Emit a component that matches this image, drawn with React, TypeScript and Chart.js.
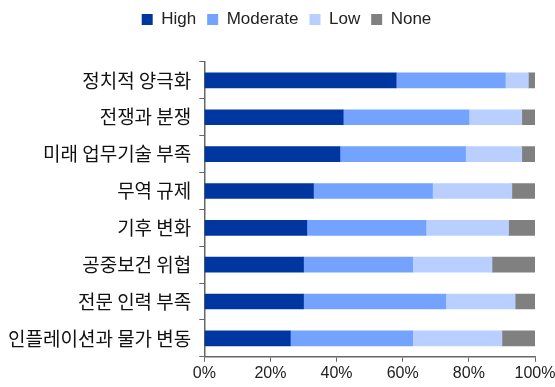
import React, { useEffect, useRef } from "react";
import { Chart, registerables } from "chart.js";

Chart.register(...registerables);

const categories = [
  "정치적 양극화",
  "전쟁과 분쟁",
  "미래 업무기술 부족",
  "무역 규제",
  "기후 변화",
  "공중보건 위협",
  "전문 인력 부족",
  "인플레이션과 물가 변동",
];
const high = [58, 42, 41, 33, 31, 30, 30, 26];
const moderate = [33, 38, 38, 36, 36, 33, 43, 37];
const low = [7, 16, 17, 24, 25, 24, 21, 27];
const none = [2, 4, 5, 7, 8, 13, 6, 10];
const seriesNames = ["High", "Moderate", "Low", "None"];
const colors = ["#0036a0", "#73a3ff", "#b8cfff", "#808080"];

const FONT = "'Liberation Sans', Arial, 'Noto Sans CJK KR', sans-serif";
const KFONT = "'Noto Sans CJK KR', 'Liberation Sans', sans-serif";

const legendMargin = {
  id: "legendMargin",
  beforeInit(chart: any) {
    const legend = chart.legend;
    if (!legend) return;
    const orig = legend.fit;
    legend.fit = function () {
      orig.bind(legend)();
      this.height += 24;
    };
  },
  afterLayout(chart: any) {
    const legend = chart.legend;
    if (!legend) return;
    legend.left += 9;
    legend.right += 9;
  },
};

export default function App() {
  const ref = useRef<HTMLCanvasElement>(null);
  useEffect(() => {
    document.body.style.margin = "0";
    const ctx = ref.current!;
    const data = [high, moderate, low, none];
    const chart = new Chart(ctx, {
      type: "bar",
      data: {
        labels: categories,
        datasets: data.map((d, i) => ({
          label: seriesNames[i],
          data: d,
          backgroundColor: colors[i],
          borderWidth: 0,
          barThickness: 15,
        })),
      },
      plugins: [legendMargin],
      options: {
        indexAxis: "y",
        animation: false,
        responsive: false,
        maintainAspectRatio: false,
        layout: { padding: { left: 0, right: 0, top: 0, bottom: 2 } },
        plugins: {
          tooltip: { enabled: false },
          legend: {
            position: "top",
            labels: {
              boxWidth: 11,
              boxHeight: 11,
              padding: 11,
              color: "#222",
              font: { family: FONT, size: 17 },
            },
          },
        },
        scales: {
          x: {
            stacked: true,
            min: 0,
            max: 100,
            afterFit: (scale: any) => {
              scale.paddingRight = 20;
            },
            ticks: {
              stepSize: 20,
              color: "#222",
              font: { family: FONT, size: 16 },
              callback: (v: any) => v + "%",
              padding: 2,
              maxRotation: 0,
            },
            grid: {
              drawOnChartArea: false,
              drawTicks: true,
              tickLength: 5,
              color: "#666",
            },
            border: { color: "#666", width: 1.5 },
          },
          y: {
            stacked: true,
            ticks: {
              color: "#111",
              font: { family: KFONT, size: 19 },
              padding: 8,
            },
            grid: {
              offset: true,
              drawOnChartArea: false,
              drawTicks: true,
              tickLength: 5,
              color: "#666",
            },
            border: { color: "#666", width: 1.5 },
          },
        },
      },
    });
    return () => chart.destroy();
  }, []);
  return <canvas ref={ref} width={555} height={387} style={{ display: "block" }} />;
}
